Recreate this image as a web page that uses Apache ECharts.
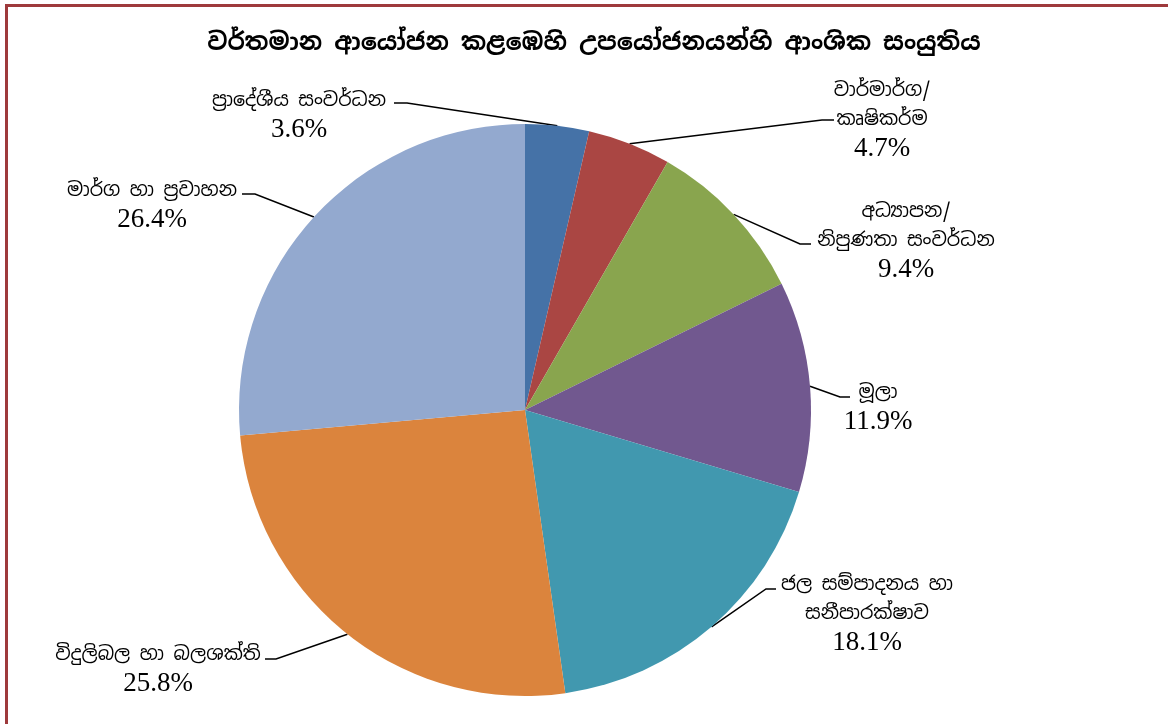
<!DOCTYPE html>
<html>
<head>
<meta charset="utf-8">
<script src="https://cdn.jsdelivr.net/npm/echarts@6/dist/echarts.min.js"></script>
<style>
  html, body { margin: 0; padding: 0; background: #fff; }
  #main { width: 1168px; height: 724px; }
  #frame { position: absolute; left: 5px; top: 4px; width: 1170px; height: 730px;
           border-left: 3px solid #9e3a3c; border-top: 3px solid #9e3a3c; pointer-events: none; }
</style>
</head>
<body>
<div id="main"></div>
<div id="frame"></div>
<script>
// පයි ප්‍රස්තාරයේ දත්ත
var titleText = 'වර්තමාන ආයෝජන කළඹෙහි උපයෝජනයන්හි ආංශික සංයුතිය';
var sectorNames = [
    'ප්‍රාදේශීය සංවර්ධන',
    'වාර්මාර්ග/\nකෘෂිකර්ම',
    'අධ්‍යාපන/\nනිපුණතා සංවර්ධන',
    'මූලා',
    'ජල සම්පාදනය හා\nසනීපාරක්ෂාව',
    'විදුලිබල හා බලශක්ති',
    'මාර්ග හා ප්‍රවාහන'
];
var sectorValues = [3.6, 4.7, 9.4, 11.9, 18.1, 25.8, 26.4];
var sectorColors = ['#4572a7', '#aa4643', '#89a54e', '#71588f', '#4198af', '#db843d', '#93a9cf'];

var myChart = echarts.init(document.getElementById('main'));

// ලේබල් ස්ථාන (මධ්‍යය) සහ රේඛාවේ තිරස් කොටස
var labelPos = [
    [299, 115], [882, 120], [906, 241], [878, 407], [867, 614], [158, 669], [152, 205]
];
var labelStub = [
    [[407, 103], [394, 103]],
    [[822, 120], [834, 120]],
    [[800, 244], [811, 244]],
    [[840, 397], [850, 397]],
    [[766, 589], [776, 589]],
    [[276, 659], [265, 659]],
    [[255, 194], [242, 194]]
];

var pieData = [];
for (var i = 0; i < sectorValues.length; i++) {
    pieData.push({
        name: sectorNames[i],
        value: sectorValues[i],
        itemStyle: { color: sectorColors[i] }
    });
}

var sinhalaFont = "'Noto Sans Sinhala', 'Iskoola Pota', 'Liberation Serif', serif";

option = {
    animation: false,
    title: {
        text: titleText,
        left: 589,
        top: 26,
        textAlign: 'center',
        textStyle: {
            fontFamily: sinhalaFont,
            fontWeight: 'bold',
            fontSize: 24,
            color: '#000'
        }
    },
    series: [
        {
            type: 'pie',
            center: [525, 410],
            radius: 286,
            startAngle: 90,
            clockwise: true,
            data: pieData,
            label: {
                show: true,
                position: 'outside',
                formatter: function (p) {
                    var lines = p.name.split('\n').map(function (s) { return '{n|' + s + '}'; });
                    lines.push('{v|' + p.value.toFixed(1) + '%}');
                    return lines.join('\n');
                },
                align: 'center',
                rich: {
                    n: { fontFamily: sinhalaFont, fontSize: 19, lineHeight: 29, color: '#000' },
                    v: { fontFamily: "'Liberation Serif', 'Times New Roman', serif", fontSize: 27, lineHeight: 29, color: '#000' }
                }
            },
            labelLine: {
                show: true,
                length: 20,
                length2: 10,
                lineStyle: { color: '#000', width: 1.5 }
            },
            labelLayout: function (params) {
                var k = params.dataIndex;
                var p0 = params.labelLinePoints ? params.labelLinePoints[0] : labelStub[k][0];
                return {
                    x: labelPos[k][0],
                    y: labelPos[k][1],
                    align: 'center',
                    verticalAlign: 'middle',
                    labelLinePoints: [p0, labelStub[k][0], labelStub[k][1]]
                };
            }
        }
    ]
};

myChart.setOption(option);
</script>
</body>
</html>
